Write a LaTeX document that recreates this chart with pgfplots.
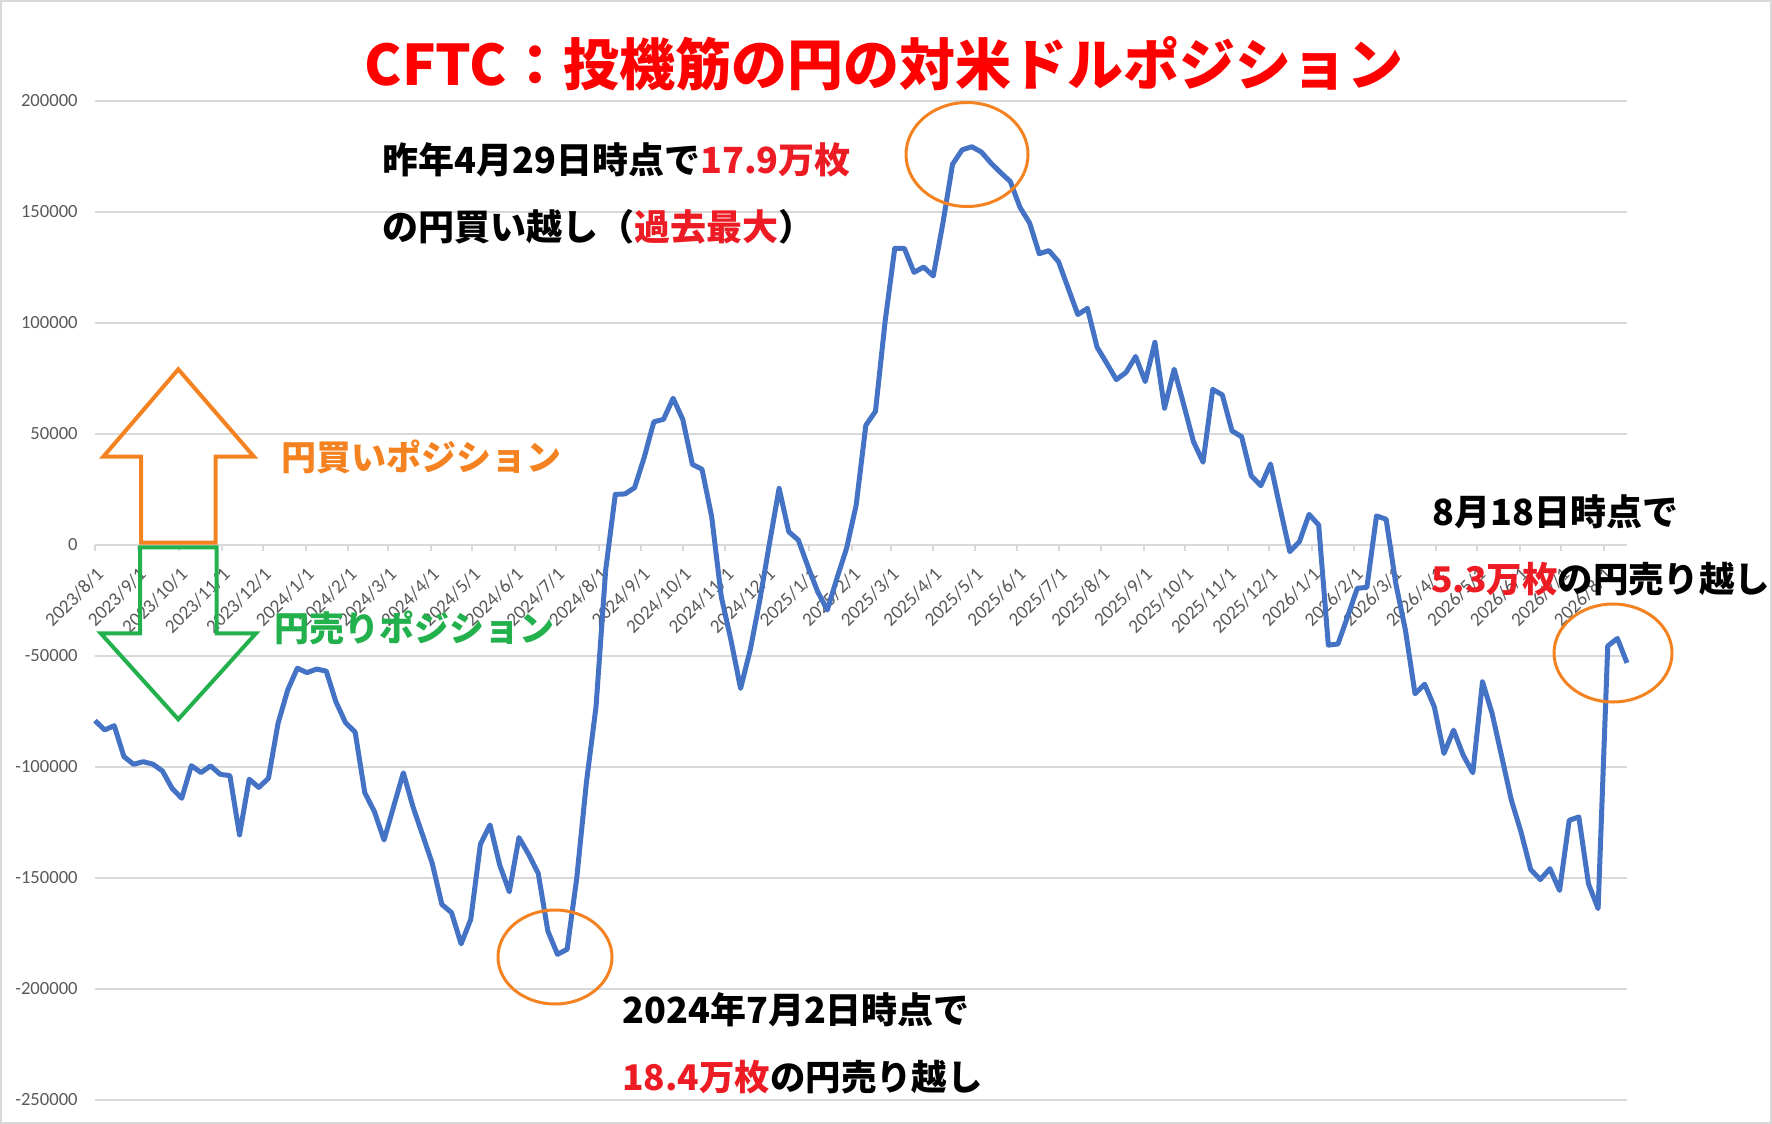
\documentclass[border=0pt]{standalone}
\usepackage{fontspec}
\usepackage{pgfplots}
\usepackage{pgfplotstable}
\pgfplotsset{compat=1.18}
\setmainfont{Carlito}
\newfontfamily\jp{Noto Sans CJK JP}
\definecolor{lineblue}{HTML}{4472C4}
\definecolor{gridc}{HTML}{D9D9D9}
\definecolor{tickc}{HTML}{595959}
\definecolor{titlered}{HTML}{FF0000}
\definecolor{annred}{HTML}{ED1C24}
\definecolor{orng}{HTML}{F58220}
\definecolor{grn}{HTML}{22B14C}

\pgfplotstableread{
x y
0 -79100
7 -83300
14 -81400
21 -95300
28 -98800
35 -97600
42 -98700
49 -101800
56 -109600
63 -114100
70 -99400
77 -102500
84 -99500
91 -103300
98 -103900
105 -130600
112 -105500
119 -109200
126 -105100
133 -80300
140 -65300
147 -55500
154 -57500
161 -55900
168 -56800
175 -70600
182 -80000
189 -84300
196 -111600
203 -120100
210 -132900
217 -117700
224 -102600
231 -117900
238 -130600
245 -143400
252 -161900
259 -165600
266 -179700
273 -168600
280 -134800
287 -126100
294 -144100
301 -156200
308 -131800
315 -139300
322 -147900
329 -173900
336 -184400
343 -182100
350 -150000
357 -107000
364 -72800
371 -11300
378 22800
385 23000
392 25800
399 39500
406 55500
413 56600
420 66100
427 56600
434 36300
441 34100
448 12800
455 -23300
462 -42800
469 -64600
476 -47300
483 -24800
490 700
497 25500
504 6000
511 2200
518 -9800
525 -21000
532 -29300
539 -15000
546 -1500
553 18000
560 53900
567 60200
574 100600
581 133600
588 133600
595 122800
602 125200
609 121200
616 145000
623 171500
630 178000
637 179400
644 177000
651 172000
658 167700
665 163700
672 152100
679 145000
686 131200
693 132600
700 127600
707 115700
714 103800
721 106600
728 89100
735 81900
742 74500
749 77700
756 84900
763 73600
770 91300
777 61600
784 79200
791 63100
798 46600
805 37300
812 70100
819 67600
826 51400
833 48800
840 31200
847 26700
854 36500
861 16500
868 -3000
875 1500
882 13800
889 9000
896 -45100
903 -44600
910 -32300
917 -19500
924 -19100
931 13100
938 11600
945 -17300
952 -38300
959 -67000
966 -62700
973 -72900
980 -93900
987 -83400
994 -94700
1001 -102600
1008 -61600
1015 -75900
1022 -95400
1029 -115000
1036 -129300
1043 -146200
1050 -150700
1057 -145800
1064 -155600
1071 -124000
1078 -122500
1085 -152600
1092 -163800
1099 -45500
1106 -42100
1113 -53100
}\cftc

\begin{document}
\begin{tikzpicture}
\useasboundingbox (0,0) rectangle (886pt,-562pt);
\draw[gridc, line width=1pt] (0.5pt,-0.5pt) rectangle (885.5pt,-561.5pt);
\begin{axis}[
  at={(47.5pt,-50.5pt)}, anchor=north west,
  scale only axis, width=766pt, height=499.5pt,
  xmin=0, xmax=1113, ymin=-250000, ymax=200000,
  axis x line*=middle, axis y line*=left,
  hide obscured x ticks=false,
  scaled y ticks=false,
  x axis line style={draw=gridc, line width=1pt},
  y axis line style={draw=none},
  ymajorgrids, major grid style={draw=gridc, line width=1pt},
  ytick={-250000,-200000,-150000,-100000,-50000,0,50000,100000,150000,200000},
  yticklabels={-250000,-200000,-150000,-100000,-50000,0,50000,100000,150000,200000},
  ytick style={draw=none},
  yticklabel style={font=\fontsize{9.3}{10}\selectfont, text=tickc, anchor=east, inner sep=0pt, xshift=-8.5pt},
  xtick={0,31,61,92,122,153,184,213,244,274,305,335,366,397,427,458,488,519,550,578,609,639,670,700,731,762,792,823,853,884,915,943,974,1004,1035,1065,1096},
  xticklabels={2023/8/1,2023/9/1,2023/10/1,2023/11/1,2023/12/1,2024/1/1,2024/2/1,2024/3/1,2024/4/1,2024/5/1,2024/6/1,2024/7/1,2024/8/1,2024/9/1,2024/10/1,2024/11/1,2024/12/1,2025/1/1,2025/2/1,2025/3/1,2025/4/1,2025/5/1,2025/6/1,2025/7/1,2025/8/1,2025/9/1,2025/10/1,2025/11/1,2025/12/1,2026/1/1,2026/2/1,2026/3/1,2026/4/1,2026/5/1,2026/6/1,2026/7/1,2026/8/1},
  xtick align=outside, major tick length=3pt,
  xtick style={draw=gridc, line width=1pt},
  xticklabel style={font=\fontsize{9.6}{10}\selectfont, text=tickc, rotate=45, anchor=north east, inner sep=0pt},
  xticklabel shift=7.5pt,
  clip=false,
]
\addplot[lineblue, line width=2.5pt, line join=round] table[x=x, y=y] {\cftc};
\end{axis}

% title
\node[font=\jp\bfseries\fontsize{28}{30}\selectfont, text=titlered, inner sep=0pt] at (442pt,-32pt) {CFTC：投機筋の円の対米ドルポジション};

% annotations
\begin{scope}[every node/.style={inner sep=0pt, anchor=west, font=\jp\bfseries\fontsize{18}{20}\selectfont}]
\node at (191pt,-80pt) {昨年4月29日時点で\textcolor{annred}{17.9万枚}};
\node at (191pt,-113.3pt) {の円買い越し（\textcolor{annred}{過去最大}）};
\node at (311pt,-505pt) {2024年7月2日時点で};
\node[font=\jp\bfseries\fontsize{17.7}{20}\selectfont] at (311pt,-538.5pt) {\textcolor{annred}{18.4万枚}の円売り越し};
\node at (716pt,-256pt) {8月18日時点で};
\node[font=\jp\bfseries\fontsize{17.7}{20}\selectfont] at (715.5pt,-289.5pt) {\textcolor{annred}{5.3万枚}の円売り越し};
\node[text=orng, font=\jp\bfseries\fontsize{17.5}{20}\selectfont] at (140.5pt,-228.3pt) {円買いポジション};
\node[text=grn, font=\jp\bfseries\fontsize{17.5}{20}\selectfont] at (137pt,-314pt) {円売りポジション};
\end{scope}

% ellipses
\draw[orng, line width=1.5pt] (277.5pt,-478.5pt) ellipse [x radius=28.5pt, y radius=23.5pt];
\draw[orng, line width=1.5pt] (483.5pt,-77.25pt) ellipse [x radius=30.5pt, y radius=26pt];
\draw[orng, line width=1.5pt] (806.5pt,-326.5pt) ellipse [x radius=29.5pt, y radius=24.5pt];

% arrows
\draw[orng, line width=2pt, line join=miter] (70.5pt,-271.35pt) -- (70.5pt,-228.35pt) -- (51.65pt,-228.35pt) -- (89.15pt,-184.65pt) -- (127pt,-228.35pt) -- (107.85pt,-228.35pt) -- (107.85pt,-271.35pt) -- cycle;
\draw[grn, line width=2pt, line join=miter] (70pt,-273.65pt) -- (70pt,-316.65pt) -- (50.35pt,-316.65pt) -- (89.15pt,-359.65pt) -- (128pt,-316.65pt) -- (108.35pt,-316.65pt) -- (108.35pt,-273.65pt) -- cycle;
\end{tikzpicture}
\end{document}
